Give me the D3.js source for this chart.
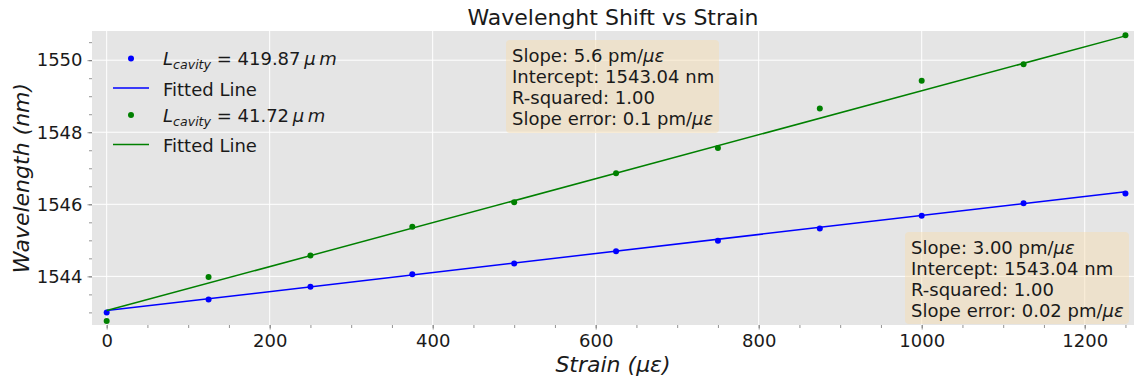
<!DOCTYPE html>
<html>
<head>
<meta charset="utf-8">
<script src="https://cdn.jsdelivr.net/npm/d3@7"></script>
<style>
  body { margin: 0; background: #fff; }
  text { font-family: "DejaVu Sans", sans-serif; fill: #1a1a1a; }
</style>
</head>
<body>
<div id="chart"></div>
<script>
// strain steps (micro-strain)
const strain = [0, 125, 250, 375, 500, 625, 750, 875, 1000, 1125, 1250];
// measured wavelength (nm) for both cavities
const wlLong  = [1543.00, 1543.36, 1543.71, 1544.06, 1544.36, 1544.70, 1544.99, 1545.33, 1545.68, 1546.03, 1546.30];
const wlShort = [1542.76, 1543.98, 1544.58, 1545.38, 1546.06, 1546.86, 1547.56, 1548.66, 1549.43, 1549.89, 1550.69];
// fitted lines (intercept nm, slope nm per micro-strain)
const fitIntercept = [1543.05, 1543.05];
const fitSlope = [0.00264, 0.0061];
const seriesColors = ['#0000ff', '#008000'];
const cavityLabels = ['419.87', '41.72'];
// axis ticks
const xTicks = [0, 200, 400, 600, 800, 1000, 1200];
const xMinor = d3.range(0, 1251, 50);
const yTicks = [1544, 1546, 1548, 1550];
const yMinor = d3.range(1543, 1550.6, 0.5);
// text boxes
const boxLines = [
  [['Slope: 5.6 pm/', 'με'], ['Intercept: 1543.04 nm'], ['R-squared: 1.00'], ['Slope error: 0.1 pm/', 'με']],
  [['Slope: 3.00 pm/', 'με'], ['Intercept: 1543.04 nm'], ['R-squared: 1.00'], ['Slope error: 0.02 pm/', 'με']]
];

const width = 1136;
const height = 380;
const plot = {left: 92, right: 1134, top: 31, bottom: 325};

const svg = d3.select('#chart')
  .append('svg')
  .attr('width', width)
  .attr('height', height);

const x = d3.scaleLinear().domain([-18, 1260.5]).range([plot.left, plot.right]);
const y = d3.scaleLinear().domain([1542.65, 1550.81]).range([plot.bottom, plot.top]);

// background
svg.append('rect')
  .attr('x', plot.left).attr('y', plot.top)
  .attr('width', plot.right - plot.left).attr('height', plot.bottom - plot.top)
  .attr('fill', '#e5e5e5');

// grid
svg.append('g').selectAll('line').data(xTicks).enter().append('line')
  .attr('x1', d => x(d)).attr('x2', d => x(d))
  .attr('y1', plot.top).attr('y2', plot.bottom)
  .attr('stroke', '#fff').attr('stroke-width', 1);
svg.append('g').selectAll('line').data(yTicks).enter().append('line')
  .attr('y1', d => y(d)).attr('y2', d => y(d))
  .attr('x1', plot.left).attr('x2', plot.right)
  .attr('stroke', '#fff').attr('stroke-width', 1);

// axes
svg.append('g')
  .attr('transform', `translate(0,${plot.bottom})`)
  .call(d3.axisBottom(x).tickValues(xTicks).tickFormat(d3.format('d')).tickSize(4.5).tickPadding(5));
svg.append('g')
  .attr('transform', `translate(0,${plot.bottom})`)
  .call(d3.axisBottom(x).tickValues(xMinor).tickSize(3).tickFormat(''));
svg.append('g')
  .attr('transform', `translate(${plot.left},0)`)
  .call(d3.axisLeft(y).tickValues(yTicks).tickFormat(d3.format('d')).tickSize(4.5).tickPadding(5));
svg.append('g')
  .attr('transform', `translate(${plot.left},0)`)
  .call(d3.axisLeft(y).tickValues(yMinor).tickSize(3).tickFormat(''));
svg.selectAll('.domain').remove();
svg.selectAll('.tick line').attr('stroke', '#777').attr('stroke-width', 0.8);
svg.selectAll('.tick text').attr('font-size', '18px').attr('fill', '#1a1a1a');

// fitted lines and points
[wlLong, wlShort].forEach((vals, i) => {
  const line = d3.line()
    .x(d => x(d))
    .y(d => y(fitIntercept[i] + fitSlope[i] * d));
  svg.append('path')
    .datum([strain[0], strain[strain.length - 1]])
    .attr('d', line)
    .attr('fill', 'none')
    .attr('stroke', seriesColors[i])
    .attr('stroke-width', 1.5);
  svg.append('g').selectAll('circle').data(vals).enter().append('circle')
    .attr('cx', (d, j) => x(strain[j]))
    .attr('cy', d => y(d))
    .attr('r', 3)
    .attr('fill', seriesColors[i]);
});

// title
svg.append('text')
  .attr('x', (plot.left + plot.right) / 2).attr('y', 25)
  .attr('text-anchor', 'middle')
  .attr('font-size', '22px')
  .text('Wavelenght Shift vs Strain');

// axis labels
const xl = svg.append('text')
  .attr('x', (plot.left + plot.right) / 2).attr('y', 372)
  .attr('text-anchor', 'middle')
  .attr('font-size', '22px')
  .attr('font-style', 'italic');
xl.append('tspan').text('Strain (');
xl.append('tspan').text('με');
xl.append('tspan').text(')');

svg.append('text')
  .attr('transform', `translate(29,${(plot.top + plot.bottom) / 2}) rotate(-90)`)
  .attr('text-anchor', 'middle')
  .attr('font-size', '22px')
  .attr('font-style', 'italic')
  .text('Wavelength (nm)');

// legend
const legendRows = [58.5, 88, 115, 144.5];
const legend = svg.append('g');
cavityLabels.forEach((lab, i) => {
  const yd = legendRows[i * 2];
  const yl = legendRows[i * 2 + 1];
  legend.append('circle')
    .attr('cx', 131).attr('cy', yd).attr('r', 3)
    .attr('fill', seriesColors[i]);
  const t = legend.append('text')
    .attr('x', 163).attr('y', yd + 6.5)
    .attr('font-size', '18px');
  t.append('tspan').attr('font-style', 'italic').text('L');
  t.append('tspan').attr('font-style', 'italic').attr('font-size', '12.6px')
    .attr('dy', 4).text('cavity');
  t.append('tspan').attr('dy', -4).text(' = ' + lab + '\u2009');
  t.append('tspan').attr('font-style', 'italic').text('μ\u2009m');

  legend.append('line')
    .attr('x1', 113).attr('x2', 149)
    .attr('y1', yl).attr('y2', yl)
    .attr('stroke', seriesColors[i]).attr('stroke-width', 1.5);
  legend.append('text')
    .attr('x', 163).attr('y', yl + 7.5)
    .attr('font-size', '18px')
    .text('Fitted Line');
});

// annotation boxes
const boxPos = [{x: 506, y: 40, w: 213, h: 93}, {x: 905, y: 232, w: 224, h: 92}];
boxLines.forEach((lines, b) => {
  const p = boxPos[b];
  const g = svg.append('g');
  g.append('rect')
    .attr('x', p.x).attr('y', p.y).attr('width', p.w).attr('height', p.h)
    .attr('rx', 4)
    .attr('fill', '#f5deb3').attr('fill-opacity', 0.5);
  lines.forEach((parts, k) => {
    const t = g.append('text')
      .attr('x', p.x + 6).attr('y', p.y + 21.5 + k * 21)
      .attr('font-size', '18px');
    t.append('tspan').text(parts[0]);
    if (parts[1]) t.append('tspan').attr('font-style', 'italic').text(parts[1]);
  });
});
</script>
</body>
</html>
